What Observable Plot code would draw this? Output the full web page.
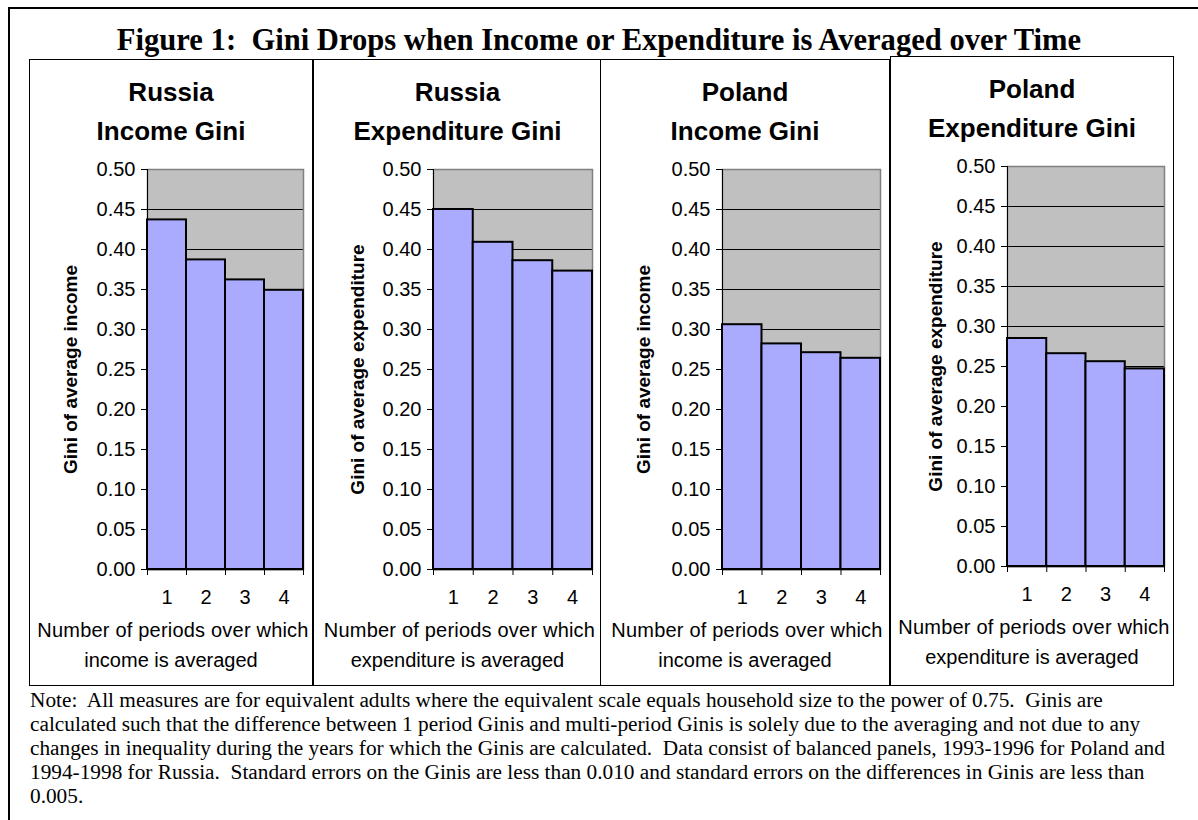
<!DOCTYPE html>
<html><head><meta charset="utf-8">
<script src="https://cdn.jsdelivr.net/npm/d3@7"></script>
<script src="https://cdn.jsdelivr.net/npm/@observablehq/plot@0.6"></script>
<style>
html,body{margin:0;padding:0;background:#fff;}
body{width:1198px;height:820px;overflow:hidden;position:relative;font-family:"Liberation Sans",Arial,sans-serif;color:#000;}
#frame{position:absolute;left:8px;top:7px;width:1400px;height:1000px;border-left:2px solid #000;border-top:2px solid #000;}
#title{position:absolute;left:0;width:1198px;top:25px;text-align:center;font:bold 30.6px/30px "Liberation Serif","Times New Roman",serif;white-space:pre;}
.panel{position:absolute;background:#fff;box-shadow:inset 0 0 0 1px #000;}
.ptitle{position:absolute;left:0;right:0;top:13.5px;text-align:center;font:bold 26px/39px "Liberation Sans",Arial,sans-serif;}
.xlab{position:absolute;left:0;right:0;top:556px;text-align:center;font:20px/30px "Liberation Sans",Arial,sans-serif;white-space:nowrap;}
.xlab .l1{letter-spacing:0.2px;padding-left:4px;}
.chart{position:absolute;left:0;top:100px;}
.chart svg{overflow:visible;}
#note{position:absolute;left:30px;top:688px;font:21.3px/24px "Liberation Serif","Times New Roman",serif;white-space:pre;}
</style>
</head><body>
<div id="frame"></div>
<div id="title"></div>
<div id="panels"></div>
<div id="note"></div>
<script>
// ---- data ----
const figureTitle = "Figure 1:  Gini Drops when Income or Expenditure is Averaged over Time";
const countries = ["Russia", "Russia", "Poland", "Poland"];
const measures = ["Income Gini", "Expenditure Gini", "Income Gini", "Expenditure Gini"];
const yLabels = ["Gini of average income", "Gini of average expenditure", "Gini of average income", "Gini of average expenditure"];
const xLabelLine1 = "Number of periods over which";
const xLabelLine2 = ["income is averaged", "expenditure is averaged", "income is averaged", "expenditure is averaged"];
const periods = [1, 2, 3, 4];
const periodLabels = ["1", "2", "3", "4"];
const russiaIncome = [0.437, 0.387, 0.362, 0.349];
const russiaExpenditure = [0.450, 0.409, 0.386, 0.373];
const polandIncome = [0.306, 0.282, 0.271, 0.264];
const polandExpenditure = [0.285, 0.266, 0.256, 0.247];
const yTicks = [0, 0.05, 0.10, 0.15, 0.20, 0.25, 0.30, 0.35, 0.40, 0.45, 0.50];
const yTickLabels = ["0.00", "0.05", "0.10", "0.15", "0.20", "0.25", "0.30", "0.35", "0.40", "0.45", "0.50"];
const noteLines = [
  "Note:  All measures are for equivalent adults where the equivalent scale equals household size to the power of 0.75.  Ginis are",
  "calculated such that the difference between 1 period Ginis and multi-period Ginis is solely due to the averaging and not due to any",
  "changes in inequality during the years for which the Ginis are calculated.  Data consist of balanced panels, 1993-1996 for Poland and",
  "1994-1998 for Russia.  Standard errors on the Ginis are less than 0.010 and standard errors on the differences in Ginis are less than",
  "0.005."
];
const series = [russiaIncome, russiaExpenditure, polandIncome, polandExpenditure];

// ---- layout ----
const layout = [
  {left: 29, top: 59, width: 284, height: 627, plotLeft: 118, plotWidth: 156, labelDx: -77},
  {left: 313, top: 59, width: 289, height: 627, plotLeft: 120, plotWidth: 159, labelDx: -76},
  {left: 600, top: 59, width: 290, height: 627, plotLeft: 122, plotWidth: 158, labelDx: -79},
  {left: 890, top: 56, width: 284, height: 630, plotLeft: 117, plotWidth: 157, labelDx: -72}
];

document.getElementById("title").textContent = figureTitle;
document.getElementById("note").textContent = noteLines.join("\n");

const boundaries = periods.map(p => p - 0.5).concat([periods[periods.length - 1] + 0.5]);
const gridTicks = yTicks.filter(t => t > 0 && t < 0.5);

const container = document.getElementById("panels");
layout.forEach((L, k) => {
  const panel = document.createElement("div");
  panel.className = "panel";
  Object.assign(panel.style, {left: L.left + "px", top: L.top + "px", width: L.width + "px", height: L.height + "px"});
  const t = document.createElement("div");
  t.className = "ptitle";
  t.innerHTML = countries[k] + "<br>" + measures[k];
  panel.appendChild(t);

  const rows = periods.map((p, i) => ({period: p, gini: series[k][i]}));
  const chart = Plot.plot({
    width: L.width,
    height: 455,
    marginTop: 10,
    marginBottom: 45,
    marginLeft: L.plotLeft,
    marginRight: L.width - L.plotLeft - L.plotWidth,
    style: {fontFamily: '"Liberation Sans", Arial, sans-serif', fontSize: "20px", color: "#000", background: "transparent", overflow: "visible"},
    x: {type: "linear", domain: [boundaries[0], boundaries[boundaries.length - 1]], axis: null},
    y: {domain: [0, 0.5], axis: null},
    marks: [
      Plot.frame({fill: "#c0c0c0", stroke: "none"}),
      Plot.ruleY(gridTicks, {stroke: "#000", strokeWidth: 1}),
      Plot.frame({stroke: "#808080", strokeWidth: 1.5}),
      Plot.rect(rows, {x1: d => d.period - 0.5, x2: d => d.period + 0.5, y1: 0, y2: "gini", fill: "#aaaaff", stroke: "#000", strokeWidth: 2}),
      Plot.ruleX([boundaries[0]], {stroke: "#000", strokeWidth: 1}),
      Plot.ruleY([0], {stroke: "#000", strokeWidth: 1.5}),
      Plot.axisY({ticks: yTicks, tickFormat: d => yTickLabels[yTicks.indexOf(d)], tickSize: 6, tickPadding: 6, fontSize: 20, stroke: "#000", label: null}),
      Plot.axisX({ticks: boundaries, tickFormat: () => "", tickSize: 6, stroke: "#000", label: null}),
      Plot.text(rows, {x: "period", frameAnchor: "bottom", dy: 28.5, text: (d, i) => periodLabels[i], lineAnchor: "middle", fontSize: 20, fill: "#000"}),
      Plot.text([yLabels[k]], {frameAnchor: "left", dx: L.labelDx, rotate: -90, text: d => d, textAnchor: "middle", fontWeight: "bold", fontSize: 19, fill: "#000", lineAnchor: "middle"})
    ]
  });
  const wrap = document.createElement("div");
  wrap.className = "chart";
  wrap.appendChild(chart);
  panel.appendChild(wrap);

  const xl = document.createElement("div");
  xl.className = "xlab";
  xl.innerHTML = '<span class="l1">' + xLabelLine1 + "</span><br>" + xLabelLine2[k];
  panel.appendChild(xl);
  container.appendChild(panel);
});
</script>
</body></html>
